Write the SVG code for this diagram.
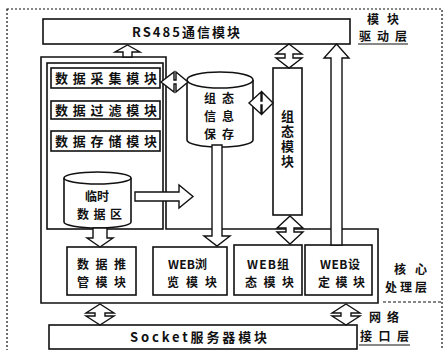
<svg xmlns="http://www.w3.org/2000/svg" width="444" height="350" viewBox="0 0 444 350">
<style>
.b{fill:#fff;stroke:#111;stroke-width:1.6}
.n{fill:none;stroke:#111;stroke-width:1.6}
.a{fill:#fff;stroke:#111;stroke-width:1.4;stroke-linejoin:miter}
.t{font-family:"Noto Sans CJK SC","Noto Sans",sans-serif;font-weight:700;font-size:13px;fill:#111}
.s{font-family:"Noto Sans CJK SC","Noto Sans",sans-serif;font-weight:700;font-size:12px;fill:#111}
</style>
<rect width="444" height="350" fill="#fff"/>
<rect x="7" y="9" width="435" height="360" fill="none" stroke="#111" stroke-width="1.2" stroke-dasharray="2,2"/>

<g id="rs485">
<rect class="b" x="43" y="19" width="307" height="25"/>
<text class="t" x="132" y="37" textLength="108" lengthAdjust="spacing">RS485通信模块</text>
</g>

<g id="layer-drive">
<text class="s" x="367" y="24" textLength="32" lengthAdjust="spacing">模块</text>
<text class="s" x="359" y="41" textLength="48" lengthAdjust="spacing">驱动层</text>
<line x1="358" y1="44" x2="408" y2="44" stroke="#111" stroke-width="1.2"/>
</g>

<g id="core-frame">
<polygon class="n" points="41,57 166,57 166,229 378,229 378,303 41,303"/>
<rect class="n" x="47" y="63" width="116" height="166"/>
</g>

<g id="acq">
<rect class="b" x="51" y="68" width="109" height="20"/>
<text class="t" x="55" y="83" textLength="102" lengthAdjust="spacing">数据采集模块</text>
</g>
<g id="filter">
<rect class="b" x="51" y="101" width="109" height="18"/>
<text class="t" x="55" y="115" textLength="102" lengthAdjust="spacing">数据过滤模块</text>
</g>
<g id="store">
<rect class="b" x="51" y="131" width="109" height="20"/>
<text class="t" x="55" y="146" textLength="102" lengthAdjust="spacing">数据存储模块</text>
</g>

<g id="tempdata">
<path class="b" d="M64,178 L64,222 A33.5,6 0 0 0 131,222 L131,178"/>
<ellipse class="b" cx="97.5" cy="178" rx="33.5" ry="6"/>
<text class="s" x="85" y="201" textLength="24" lengthAdjust="spacing">临时</text>
<text class="s" x="77" y="219" textLength="45" lengthAdjust="spacing">数据区</text>
</g>

<g id="configstore">
<path class="b" d="M187,80 L187,140 A33,7 0 0 0 253,140 L253,80"/>
<ellipse class="b" cx="220" cy="80" rx="33" ry="8"/>
<text class="s" x="204" y="103" textLength="30" lengthAdjust="spacing">组态</text>
<text class="s" x="204" y="121" textLength="30" lengthAdjust="spacing">信息</text>
<text class="s" x="204" y="139" textLength="30" lengthAdjust="spacing">保存</text>
</g>

<g id="configmod">
<rect class="b" x="273" y="68" width="29" height="147"/>
<text class="t" x="287.5" y="110" style="writing-mode:vertical-rl;letter-spacing:2px">组态模块</text>
</g>

<g id="alarm">
<rect class="b" x="67" y="247" width="69" height="48"/>
<text class="s" x="77" y="269" textLength="49" lengthAdjust="spacing">数据推</text>
<text class="s" x="77" y="287" textLength="49" lengthAdjust="spacing">管模块</text>
</g>
<g id="webbrowse">
<rect class="b" x="153" y="247" width="74" height="48"/>
<text class="s" x="168" y="269" textLength="39" lengthAdjust="spacing">WEB浏</text>
<text class="s" x="167" y="287" textLength="50" lengthAdjust="spacing">览模块</text>
</g>
<g id="webconfig">
<rect class="b" x="234" y="245" width="68" height="50"/>
<text class="s" x="247" y="269" textLength="42" lengthAdjust="spacing">WEB组</text>
<text class="s" x="245" y="287" textLength="49" lengthAdjust="spacing">态模块</text>
</g>
<g id="webset">
<rect class="b" x="305" y="245" width="67" height="50"/>
<text class="s" x="320" y="269" textLength="40" lengthAdjust="spacing">WEB设</text>
<text class="s" x="318" y="287" textLength="47" lengthAdjust="spacing">定模块</text>
</g>

<g id="layer-core">
<text class="s" x="394" y="274" textLength="33" lengthAdjust="spacing">核心</text>
<text class="s" x="385" y="292" textLength="42" lengthAdjust="spacing">处理层</text>
<line x1="383" y1="302" x2="442" y2="302" stroke="#111" stroke-width="1.2" stroke-dasharray="3,2"/>
</g>

<g id="socket">
<rect class="b" x="49" y="325" width="308" height="24"/>
<text class="t" x="130" y="342" textLength="137" lengthAdjust="spacing">Socket服务器模块</text>
</g>

<g id="layer-net">
<text class="s" x="369" y="322" textLength="30" lengthAdjust="spacing">网络</text>
<text class="s" x="360" y="341" textLength="49" lengthAdjust="spacing">接口层</text>
<line x1="359" y1="345" x2="410" y2="345" stroke="#111" stroke-width="1.2"/>
</g>

<g id="connectors">
<polygon class="a" points="127.5,45 140,52 132,52 132,57 123,57 123,52 115,52"/>
<polygon class="a" points="161,82 174,72 174,80 176,80 176,72 188,82 176,92 176,84 174,84 174,92"/>
<polygon class="a" points="249,103 261,92 261,101 262,101 262,92 273,103 262,114 262,105 261,105 261,114"/>
<polygon class="a" points="289,44 302,54 293,54 293,58 302,58 289,68 276,58 285,58 285,54 276,54"/>
<polygon class="a" points="290,216 303,228 294,228 294,232 303,232 290,244 277,232 286,232 286,228 277,228"/>
<polygon class="a" points="336.5,44 349,58 342,58 342,245 331,245 331,58 324,58"/>
<polygon class="a" points="212,145 222,145 222,236 230,236 217,246 204,236 212,236"/>
<polygon class="a" points="135,192 179,192 179,185 193,196.5 179,208 179,201 135,201"/>
<polygon class="a" points="93,228 107,228 107,238 113,238 100,247 87,238 93,238"/>
<polygon class="a" points="100,304 114,313 105,313 105,316 114,316 100,325 86,316 95,316 95,313 86,313"/>
<polygon class="a" points="346,304 360,313 351,313 351,316 360,316 346,325 332,316 341,316 341,313 332,313"/>
</g>
</svg>
